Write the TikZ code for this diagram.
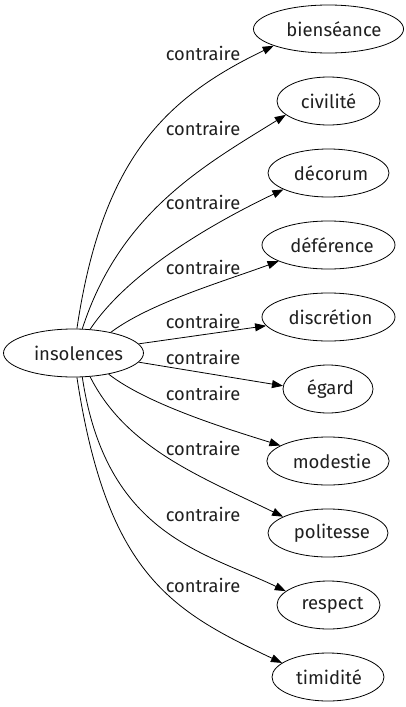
\documentclass[tikz,border=0pt]{standalone}
\usepackage{fontspec}
\setmainfont{Fira Sans}
\usetikzlibrary{shapes.geometric,arrows.meta}
\newcommand{\myoffsettext}[2]{\hspace*{#1pt}#2}
\tikzset{
  word/.style={ellipse,draw=black,line width=0.8pt,inner sep=0pt,minimum height=48pt,text=black!88,font=\fontsize{18.5}{21}\selectfont},
  rel/.style={inner sep=0pt,text=black!88,font=\fontsize{18.3}{21}\selectfont},
  edge/.style={draw=black,line width=0.8pt,-{Triangle[length=11pt,width=8pt]}}
}
\begin{document}
\begin{tikzpicture}[x=1pt,y=-1pt]
\useasboundingbox (0,0) rectangle (406,707);
\node[word,minimum width=137pt] (ins) at (73.5,353) {\myoffsettext{10}{insolences}};
\node[word,minimum width=145pt] (bien) at (328.5,29) {\myoffsettext{11}{bienséance}};
\node[word,minimum width=103pt] (civ) at (328.5,101) {civilité};
\node[word,minimum width=121pt] (deco) at (328.5,173) {\myoffsettext{5}{décorum}};
\node[word,minimum width=133pt] (defe) at (328.5,245) {\myoffsettext{7}{déférence}};
\node[word,minimum width=133pt] (disc) at (328.5,317) {\myoffsettext{4}{discrétion}};
\node[word,minimum width=90pt] (egard) at (328,389) {\myoffsettext{5}{égard}};
\node[word,minimum width=122pt] (mod) at (328,461) {\myoffsettext{8}{modestie}};
\node[word,minimum width=120pt] (pol) at (328,533) {\myoffsettext{8}{politesse}};
\node[word,minimum width=103pt] (resp) at (328.5,605) {\myoffsettext{8}{respect}};
\node[word,minimum width=112pt] (tim) at (328,677) {\myoffsettext{2}{timidité}};

\draw[edge] (ins.82) .. controls (102,159) and (165,98) .. (bien.197);
\draw[edge] (ins.70) .. controls (120,212) and (205,165) .. (civ.198);
\draw[edge] (ins.55) .. controls (128.5,272) and (211,224) .. (deco.200);
\draw[edge] (ins.29) .. controls (150,303) and (222,282) .. (defe.198);
\draw[edge] (ins.8) -- (disc.188);
\draw[edge] (ins.-8) -- (egard.176);
\draw[edge] (ins.-31) .. controls (148,405) and (232.5,430.5) .. (mod.162);
\draw[edge] (ins.-55) .. controls (126,448) and (200,476.5) .. (pol.160);
\draw[edge] (ins.-70) .. controls (106,535) and (204,552) .. (resp.162);
\draw[edge] (ins.-82) .. controls (107,575) and (172,611) .. (tim.163.5);

\node[rel] (l1) at (203,53) {contraire};
\node[rel] (l2) at (203,128) {contraire};
\node[rel] (l3) at (203,202) {contraire};
\node[rel] (l4) at (203,267) {contraire};
\node[rel] (l5) at (203,321) {contraire};
\node[rel] (l6) at (203,357) {contraire};
\node[rel] (l7) at (203,393) {contraire};
\node[rel] (l8) at (203,448) {contraire};
\node[rel] (l9) at (203,514) {contraire};
\node[rel] (l10) at (203,585) {contraire};
\end{tikzpicture}
\end{document}
